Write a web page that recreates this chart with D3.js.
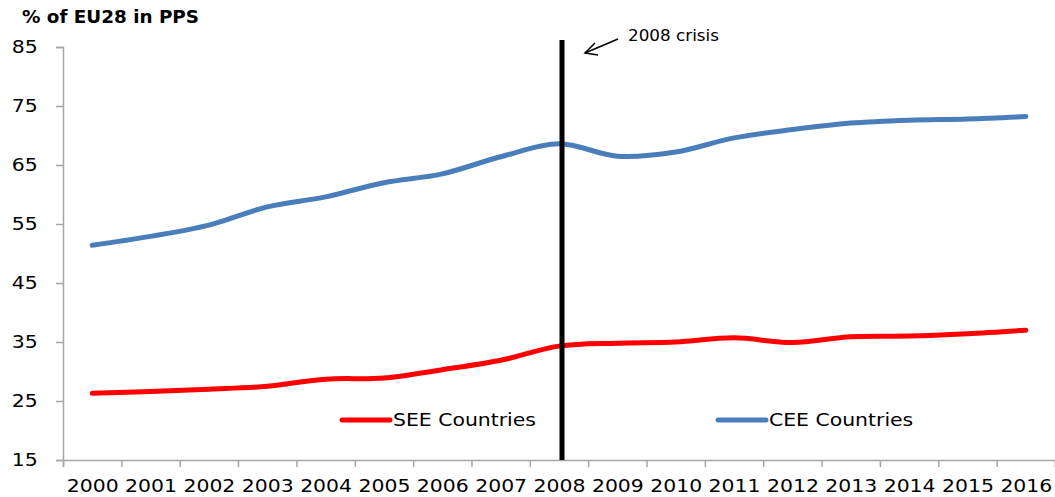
<!DOCTYPE html>
<html>
<head>
<meta charset="utf-8">
<script src="https://cdn.jsdelivr.net/npm/d3@7"></script>
<style>
  body { margin: 0; background: #fff; }
  text { font-family: "DejaVu Sans", sans-serif; fill: #000; }
</style>
</head>
<body>
<div class="container"></div>
<script>
const years = ['2000','2001','2002','2003','2004','2005','2006','2007','2008','2009','2010','2011','2012','2013','2014','2015','2016'];
const cee = [51.4, 52.9, 54.8, 57.9, 59.6, 62.0, 63.5, 66.4, 68.6, 66.5, 67.2, 69.6, 71.0, 72.1, 72.6, 72.8, 73.2];
const see = [26.3, 26.6, 27.0, 27.5, 28.7, 28.9, 30.3, 31.9, 34.3, 34.8, 35.0, 35.7, 34.9, 35.9, 36.0, 36.4, 37.0];
const yTicks = [15, 25, 35, 45, 55, 65, 75, 85];
const crisisYear = '2008';

const width = 1055;
const height = 497;
const plotLeft = 63, plotRight = 1055, plotTop = 47, plotBottom = 460;
const sx = 1.2; // the source text is stretched horizontally

const svg = d3.select('.container')
    .append('svg')
    .attr('width', width)
    .attr('height', height);

// x: linear over category index, so ticks can sit between categories
const x = d3.scaleLinear()
    .domain([-0.5, years.length - 0.5])
    .range([plotLeft, plotRight]);

const y = d3.scaleLinear()
    .domain([15, 85])
    .range([plotBottom, plotTop]);

// y axis
const yAxis = svg.append('g')
    .attr('transform', `translate(${plotLeft},0)`)
    .call(d3.axisLeft(y).tickValues(yTicks).tickSize(7).tickPadding(14));
yAxis.selectAll('path, line').attr('stroke', '#a6a6a6').attr('stroke-width', 1.5);
yAxis.selectAll('text')
    .style('font-size', '17px')
    .style('font-family', '"DejaVu Sans", sans-serif')
    .attr('transform', `scale(${sx},1)`);

// x axis tick marks between categories
const xMarks = svg.append('g')
    .attr('transform', `translate(0,${plotBottom})`)
    .call(d3.axisBottom(x).tickValues(d3.range(-0.5, years.length, 1)).tickSize(7).tickFormat(''));
xMarks.selectAll('path, line').attr('stroke', '#a6a6a6').attr('stroke-width', 1.5);

// x labels at category centres
const xLabels = svg.append('g')
    .attr('transform', `translate(0,${plotBottom})`)
    .call(d3.axisBottom(x).tickValues(d3.range(years.length)).tickSize(0).tickFormat(i => years[i]));
xLabels.select('.domain').remove();
xLabels.selectAll('text')
    .attr('y', 32).attr('dy', 0)
    .style('font-size', '17px')
    .style('font-family', '"DejaVu Sans", sans-serif')
    .attr('transform', `scale(${sx},1)`);

// lines
const line = d3.line()
    .x((d, i) => x(i))
    .y(d => y(d))
    .curve(d3.curveCatmullRom.alpha(0.5));

svg.append('path')
    .datum(cee)
    .attr('d', line)
    .attr('fill', 'none')
    .attr('stroke', '#4a7ebb')
    .attr('stroke-width', 5)
    .attr('stroke-linecap', 'round');

svg.append('path')
    .datum(see)
    .attr('d', line)
    .attr('fill', 'none')
    .attr('stroke', '#ff0000')
    .attr('stroke-width', 5)
    .attr('stroke-linecap', 'round');

// crisis marker
const cx = x(years.indexOf(crisisYear)) + 3;
svg.append('line')
    .attr('x1', cx).attr('x2', cx)
    .attr('y1', 40).attr('y2', plotBottom)
    .attr('stroke', '#000')
    .attr('stroke-width', 5);

svg.append('line')
    .attr('x1', 618).attr('y1', 39)
    .attr('x2', 585).attr('y2', 53)
    .attr('stroke', '#000').attr('stroke-width', 1.5);
svg.append('path')
    .attr('d', 'M595,43 L585,53 L598,55')
    .attr('fill', 'none')
    .attr('stroke', '#000').attr('stroke-width', 1.5);

svg.append('text')
    .attr('transform', `translate(628,41) scale(1.12,1)`)
    .style('font-size', '15px')
    .text('2008 crisis');

// title
svg.append('text')
    .attr('transform', `translate(22,23) scale(1.08,1)`)
    .style('font-size', '17px')
    .style('font-weight', 'bold')
    .text('% of EU28 in PPS');

// legend
const legend = [
    {name: 'SEE Countries', color: '#ff0000', x0: 342},
    {name: 'CEE Countries', color: '#4a7ebb', x0: 718}
];
const lg = svg.append('g');
legend.forEach(l => {
    lg.append('line')
        .attr('x1', l.x0).attr('x2', l.x0 + 48)
        .attr('y1', 420).attr('y2', 420)
        .attr('stroke', l.color)
        .attr('stroke-width', 5)
        .attr('stroke-linecap', 'round');
    lg.append('text')
        .attr('transform', `translate(${l.x0 + 51},426) scale(1.2,1)`)
        .style('font-size', '17px')
        .text(l.name);
});
</script>
</body>
</html>
